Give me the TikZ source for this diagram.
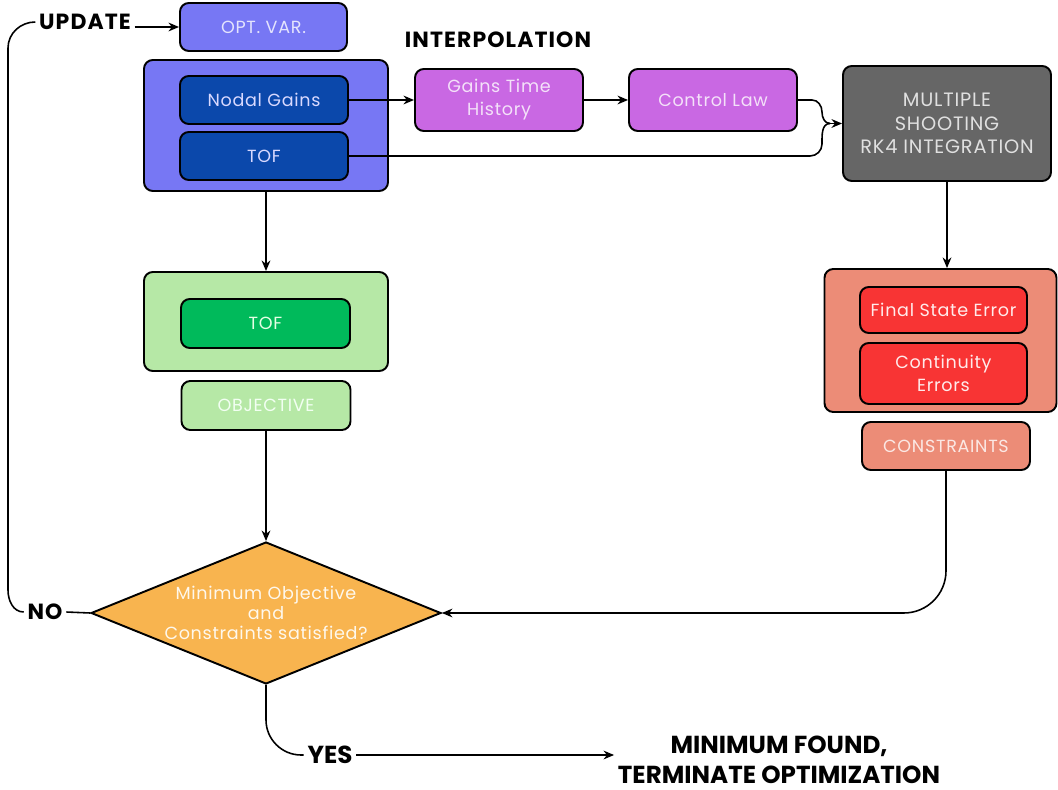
\documentclass[tikz,border=0pt]{standalone}
\usepackage{fontspec}
\setmainfont{Poppins}
\newfontfamily\boxfont[LetterSpace=4]{Poppins}
\newfontfamily\tagfont[LetterSpace=5]{Poppins}
\usetikzlibrary{shapes.geometric,arrows.meta}

\definecolor{optblue}{HTML}{7777F4}
\definecolor{deepblue}{HTML}{0B48AB}
\definecolor{violet}{HTML}{C968E3}
\definecolor{slate}{HTML}{666666}
\definecolor{palegreen}{HTML}{B6E8A6}
\definecolor{leafgreen}{HTML}{00BA5B}
\definecolor{amber}{HTML}{F8B44F}
\definecolor{salmon}{HTML}{EC8C77}
\definecolor{alarm}{HTML}{F83434}

\begin{document}
\begin{tikzpicture}[x=0.02cm,y=-0.02cm,
	    >={Stealth[length=6pt,width=5pt]},
	    blockbox/.style={draw,line width=1.1pt,rounded corners=5pt,inner sep=0pt,
		align=center,font=\boxfont\fontsize{10}{13}\selectfont},
	    size/.style 2 args={minimum width=#1*0.02cm,minimum height=#2*0.02cm},
	    tag/.style={font=\tagfont\bfseries\fontsize{12.5}{15}\selectfont,inner sep=2pt},
	    link/.style={line width=0.9pt}]
	    \useasboundingbox (0,0) rectangle (1058,790);

	    % Optimisation variables
	    \node [blockbox,size={167}{48},fill=optblue,text=optblue!20] (opt var) at (263.5,27) {OPT. VAR.};
	    \node [blockbox,size={244}{131},fill=optblue] (var group) at (266,125.5) {};
	    \node [blockbox,size={168}{48},fill=deepblue,text=blue!15] (nodal gains) at (264,100) {Nodal Gains};
	    \node [blockbox,size={168}{48},fill=deepblue,text=blue!15] (tof top) at (264,156) {TOF};

	    % Interpolation chain
	    \node [tag] (interp) at (498,40) {INTERPOLATION};
	    \node [blockbox,size={168}{62},fill=violet,text=violet!20] (gains history) at (499,100) {Gains Time\\History};
	    \node [blockbox,size={168}{62},fill=violet,text=violet!20] (control law) at (713,100) {Control Law};
	    \node [blockbox,size={208}{115},fill=slate,text=white!88!black,
		font=\boxfont\fontsize{11}{13.3}\selectfont] (rk4) at (947,123.5)
		{MULTIPLE\\SHOOTING\\RK4 INTEGRATION};

	    % Objective side
	    \node [blockbox,size={244}{99},fill=palegreen] (objective group) at (266,321.5) {};
	    \node [blockbox,size={169}{49},fill=leafgreen,text=green!10] (tof objective) at (265.5,323.5) {TOF};
	    \node [blockbox,size={169}{49},fill=palegreen,text=green!5] (objective) at (266,405.5) {OBJECTIVE};

	    % Constraint side
	    \node [blockbox,size={232}{143},fill=salmon] (constraint group) at (940.5,340.5) {};
	    \node [blockbox,size={167}{46},fill=alarm,text=red!8] (final error) at (943.5,310) {Final State Error};
	    \node [blockbox,size={167}{61},fill=alarm,text=red!8] (continuity) at (943.5,373.5) {Continuity\\Errors};
	    \node [blockbox,size={168}{48},fill=salmon,text=salmon!20] (constraints) at (946,446) {CONSTRAINTS};

	    % Decision
	    \node [diamond,draw,line width=1.1pt,fill=amber,text=amber!10,aspect=2.46,
		minimum width=7cm,minimum height=2.84cm,inner sep=0pt,align=center,
		font=\boxfont\fontsize{10}{11.5}\selectfont] (decision) at (266,613)
		{Minimum Objective\\and\\Constraints satisfied?};

	    % Branch labels
	    \node [tag] (update) at (85,22) {UPDATE};
	    \node [tag] (no) at (45,612) {NO};
	    \node [tag,font=\bfseries\fontsize{14}{15}\selectfont] (yes) at (330,755) {YES};
	    \node [tag,align=center,font=\bfseries\fontsize{14}{17}\selectfont] (final) at (779,760)
		{MINIMUM FOUND,\\TERMINATE OPTIMIZATION};

	    % Forward path
	    \draw [link,->] (update.east |- opt var) -- (opt var.west);
	    \draw [link,->] (nodal gains.east) -- (gains history.west);
	    \draw [link,->] (gains history.east) -- (control law.west);
	    \coordinate (merge) at ([xshift=-0.24cm]rk4.west);
	    \draw [link] (control law.east) -- (812,100)
		to[out=0,in=90] (822,112) to[out=-90,in=180] (merge);
	    \draw [link] (tof top.east) -- (810,156)
		to[out=0,in=-90] (822,144) to[out=90,in=180] (merge);
	    \draw [link,->] (merge) -- (rk4.west);
	    \draw [link,->] (var group.south) -- (objective group.north);
	    \draw [link,->] (rk4.south) -- (rk4.south |- constraint group.north);

	    % Into the decision
	    \draw [link,->] (objective.south) -- (decision.north);
	    \draw [link,->,rounded corners=24] (constraints.south) |- (decision.east);

	    % Outcomes
	    \draw [link] (decision.west) -- (no.east);
	    \draw [link] (no.west) to[out=180,in=-90] (8,590) -- (8,48)
		to[out=90,in=180] (update.west);
	    \draw [link,rounded corners=20] (decision.south) |- (yes.west);
	    \draw [link,->] (yes.east) -- (yes.east -| final.west);
	\end{tikzpicture}
\end{document}
